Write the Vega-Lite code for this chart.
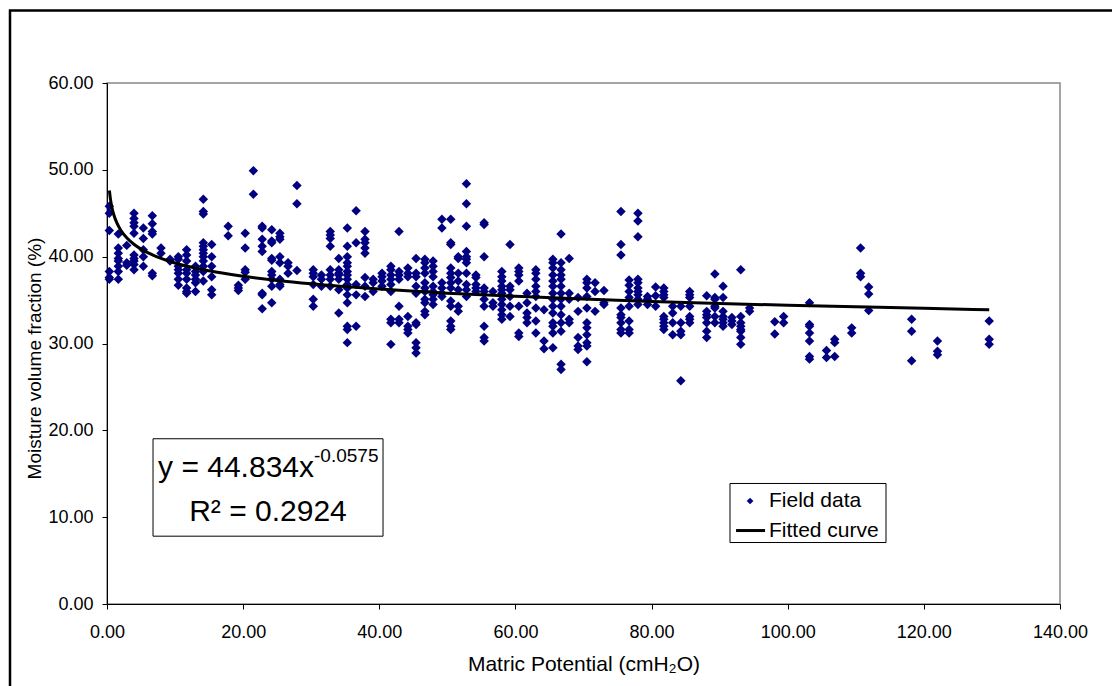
{
"$schema":"https://vega.github.io/schema/vega-lite/v6.json",
"width":953,"height":521,
"autosize":{"type":"none"},
"padding":{"left":107,"top":83,"right":52,"bottom":82},
"background":"white",
"config":{
 "font":"Liberation Sans",
 "view":{"stroke":"#888888","strokeWidth":1.5},
 "axis":{"grid":false,"domainColor":"#000000","tickColor":"#000000","labelColor":"#000000","titleColor":"#000000","labelFont":"Liberation Sans","titleFont":"Liberation Sans","labelFontSize":18,"titleFontSize":21,"titleFontWeight":"normal","tickSize":5,"domainWidth":1,"tickWidth":1,"labelOverlap":false,"labelFlush":false}
},
"datasets":{
"field":[
{"x":0.34,"y":45.8},{"x":0.34,"y":45.0},{"x":0.34,"y":43.0},{"x":0.34,"y":38.3},{"x":0.34,"y":37.6},{"x":0.34,"y":37.4},
{"x":1.66,"y":42.6},{"x":1.66,"y":41.0},{"x":1.66,"y":40.4},{"x":1.66,"y":39.8},{"x":1.66,"y":39.5},{"x":1.66,"y":38.9},{"x":1.66,"y":38.3},{"x":1.66,"y":37.4},
{"x":2.9,"y":41.3},{"x":2.9,"y":39.3},{"x":2.9,"y":39.0},
{"x":3.97,"y":45.0},{"x":3.97,"y":44.4},{"x":3.97,"y":43.9},{"x":3.97,"y":43.5},{"x":3.97,"y":42.7},{"x":3.97,"y":40.2},{"x":3.97,"y":39.8},{"x":3.97,"y":39.5},{"x":3.97,"y":39.1},{"x":3.97,"y":38.5},
{"x":5.34,"y":43.3},{"x":5.34,"y":42.1},{"x":5.34,"y":40.8},{"x":5.34,"y":40.0},{"x":5.34,"y":38.9},
{"x":6.66,"y":44.7},{"x":6.66,"y":43.8},{"x":6.66,"y":42.9},{"x":6.66,"y":42.6},{"x":6.66,"y":38.1},{"x":6.66,"y":37.8},
{"x":7.93,"y":41.0},{"x":7.93,"y":40.4},
{"x":9.26,"y":39.7},{"x":9.26,"y":39.5},
{"x":10.48,"y":40.0},{"x":10.48,"y":39.7},{"x":10.48,"y":38.9},{"x":10.48,"y":38.5},{"x":10.48,"y":38.1},{"x":10.48,"y":37.4},{"x":10.48,"y":36.7},
{"x":11.7,"y":40.8},{"x":11.7,"y":40.2},{"x":11.7,"y":39.5},{"x":11.7,"y":38.5},{"x":11.7,"y":38.1},{"x":11.7,"y":37.4},{"x":11.7,"y":36.4},{"x":11.7,"y":36.0},{"x":11.7,"y":35.8},
{"x":13.0,"y":38.9},{"x":13.0,"y":38.3},{"x":13.0,"y":37.9},{"x":13.0,"y":37.4},{"x":13.0,"y":37.0},{"x":13.0,"y":36.0},
{"x":14.15,"y":46.6},{"x":14.15,"y":45.2},{"x":14.15,"y":44.9},{"x":14.15,"y":41.6},{"x":14.15,"y":41.2},{"x":14.15,"y":40.8},{"x":14.15,"y":40.4},{"x":14.15,"y":40.0},{"x":14.15,"y":39.5},{"x":14.15,"y":38.9},{"x":14.15,"y":38.3},{"x":14.15,"y":37.2},
{"x":15.38,"y":41.4},{"x":15.38,"y":40.0},{"x":15.38,"y":38.9},{"x":15.38,"y":37.7},{"x":15.38,"y":36.2},{"x":15.38,"y":35.6},
{"x":17.8,"y":43.5},{"x":17.8,"y":42.4},
{"x":19.3,"y":36.7},{"x":19.3,"y":36.4},{"x":19.3,"y":36.1},
{"x":20.3,"y":42.7},{"x":20.3,"y":41.0},{"x":20.3,"y":38.5},{"x":20.3,"y":38.2},{"x":20.3,"y":37.4},
{"x":21.5,"y":49.9},{"x":21.5,"y":47.2},
{"x":22.8,"y":43.5},{"x":22.8,"y":43.3},{"x":22.8,"y":42.0},{"x":22.8,"y":41.2},{"x":22.8,"y":40.6},{"x":22.8,"y":35.8},{"x":22.8,"y":35.6},{"x":22.8,"y":34.0},
{"x":24.2,"y":43.1},{"x":24.2,"y":41.8},{"x":24.2,"y":41.6},{"x":24.2,"y":39.8},{"x":24.2,"y":39.6},{"x":24.2,"y":38.3},{"x":24.2,"y":37.9},{"x":24.2,"y":37.4},{"x":24.2,"y":36.6},{"x":24.2,"y":34.7},
{"x":25.4,"y":42.7},{"x":25.4,"y":42.3},{"x":25.4,"y":42.0},{"x":25.4,"y":40.0},{"x":25.4,"y":39.3},{"x":25.4,"y":37.4},{"x":25.4,"y":36.8},{"x":25.4,"y":36.6},
{"x":26.6,"y":39.3},{"x":26.6,"y":38.9},{"x":26.6,"y":38.1},
{"x":27.9,"y":48.2},{"x":27.9,"y":46.1},{"x":27.9,"y":38.4},
{"x":30.3,"y":38.5},{"x":30.3,"y":38.1},{"x":30.3,"y":37.7},{"x":30.3,"y":36.8},{"x":30.3,"y":35.1},{"x":30.3,"y":34.3},
{"x":31.5,"y":37.9},{"x":31.5,"y":37.4},{"x":31.5,"y":36.6},
{"x":32.8,"y":42.9},{"x":32.8,"y":42.5},{"x":32.8,"y":42.1},{"x":32.8,"y":41.2},{"x":32.8,"y":38.5},{"x":32.8,"y":37.9},{"x":32.8,"y":37.4},{"x":32.8,"y":36.6},
{"x":34.05,"y":39.8},{"x":34.05,"y":38.5},{"x":34.05,"y":38.1},{"x":34.05,"y":37.9},{"x":34.05,"y":37.4},{"x":34.05,"y":36.2},{"x":34.05,"y":33.5},
{"x":35.3,"y":43.3},{"x":35.3,"y":41.2},{"x":35.3,"y":40.0},{"x":35.3,"y":39.3},{"x":35.3,"y":38.9},{"x":35.3,"y":38.3},{"x":35.3,"y":37.9},{"x":35.3,"y":37.4},{"x":35.3,"y":36.8},{"x":35.3,"y":36.4},{"x":35.3,"y":35.6},{"x":35.3,"y":34.7},{"x":35.3,"y":32.0},{"x":35.3,"y":31.6},{"x":35.3,"y":30.1},
{"x":36.6,"y":45.3},{"x":36.6,"y":41.6},{"x":36.6,"y":36.8},{"x":36.6,"y":35.6},{"x":36.6,"y":32.0},
{"x":37.9,"y":42.9},{"x":37.9,"y":42.0},{"x":37.9,"y":41.6},{"x":37.9,"y":41.0},{"x":37.9,"y":40.4},{"x":37.9,"y":37.6},{"x":37.9,"y":36.6},{"x":37.9,"y":35.4},
{"x":39.1,"y":37.4},{"x":39.1,"y":37.0},{"x":39.1,"y":36.0},
{"x":40.4,"y":38.1},{"x":40.4,"y":37.7},{"x":40.4,"y":37.2},{"x":40.4,"y":36.6},
{"x":41.7,"y":38.9},{"x":41.7,"y":38.5},{"x":41.7,"y":37.9},{"x":41.7,"y":37.4},{"x":41.7,"y":36.8},{"x":41.7,"y":36.0},{"x":41.7,"y":32.8},{"x":41.7,"y":32.4},{"x":41.7,"y":29.9},
{"x":42.9,"y":42.9},{"x":42.9,"y":38.3},{"x":42.9,"y":37.9},{"x":42.9,"y":37.4},{"x":42.9,"y":34.3},{"x":42.9,"y":32.8},{"x":42.9,"y":32.4},
{"x":44.2,"y":38.7},{"x":44.2,"y":38.1},{"x":44.2,"y":37.7},{"x":44.2,"y":33.1},{"x":44.2,"y":32.0},{"x":44.2,"y":31.6},{"x":44.2,"y":31.2},
{"x":45.4,"y":39.8},{"x":45.4,"y":38.1},{"x":45.4,"y":37.7},{"x":45.4,"y":36.6},{"x":45.4,"y":35.8},{"x":45.4,"y":32.4},{"x":45.4,"y":32.2},{"x":45.4,"y":30.1},{"x":45.4,"y":29.5},{"x":45.4,"y":28.9},
{"x":46.7,"y":39.7},{"x":46.7,"y":39.3},{"x":46.7,"y":38.7},{"x":46.7,"y":38.1},{"x":46.7,"y":37.0},{"x":46.7,"y":36.4},{"x":46.7,"y":36.0},{"x":46.7,"y":35.1},{"x":46.7,"y":34.7},{"x":46.7,"y":33.7},{"x":46.7,"y":33.3},
{"x":47.9,"y":39.5},{"x":47.9,"y":38.9},{"x":47.9,"y":38.3},{"x":47.9,"y":37.7},{"x":47.9,"y":36.6},{"x":47.9,"y":36.0},{"x":47.9,"y":35.6},{"x":47.9,"y":35.1},{"x":47.9,"y":34.5},
{"x":49.2,"y":44.3},{"x":49.2,"y":43.3},{"x":49.2,"y":37.0},{"x":49.2,"y":36.4},{"x":49.2,"y":35.8},{"x":49.2,"y":35.4},
{"x":50.5,"y":44.3},{"x":50.5,"y":41.6},{"x":50.5,"y":41.4},{"x":50.5,"y":38.7},{"x":50.5,"y":38.1},{"x":50.5,"y":37.6},{"x":50.5,"y":37.0},{"x":50.5,"y":36.4},{"x":50.5,"y":34.9},{"x":50.5,"y":34.3},{"x":50.5,"y":32.6},{"x":50.5,"y":32.0},{"x":50.5,"y":31.6},
{"x":51.6,"y":40.0},{"x":51.6,"y":39.8},{"x":51.6,"y":38.1},{"x":51.6,"y":37.2},{"x":51.6,"y":36.2},{"x":51.6,"y":34.3},{"x":51.6,"y":33.7},
{"x":52.8,"y":48.4},{"x":52.8,"y":46.1},{"x":52.8,"y":43.5},{"x":52.8,"y":40.6},{"x":52.8,"y":40.0},{"x":52.8,"y":39.7},{"x":52.8,"y":39.3},{"x":52.8,"y":38.1},{"x":52.8,"y":36.8},{"x":52.8,"y":36.2},{"x":52.8,"y":35.4},
{"x":54.2,"y":37.9},{"x":54.2,"y":37.6},{"x":54.2,"y":36.8},{"x":54.2,"y":36.4},{"x":54.2,"y":36.0},
{"x":55.4,"y":43.9},{"x":55.4,"y":43.7},{"x":55.4,"y":40.0},{"x":55.4,"y":36.4},{"x":55.4,"y":36.0},{"x":55.4,"y":35.1},{"x":55.4,"y":34.3},{"x":55.4,"y":32.0},{"x":55.4,"y":30.7},{"x":55.4,"y":30.3},
{"x":56.7,"y":36.0},{"x":56.7,"y":34.7},{"x":56.7,"y":34.3},
{"x":58.0,"y":38.3},{"x":58.0,"y":37.7},{"x":58.0,"y":37.2},{"x":58.0,"y":36.6},{"x":58.0,"y":36.2},{"x":58.0,"y":35.8},{"x":58.0,"y":35.1},{"x":58.0,"y":34.5},{"x":58.0,"y":33.9},{"x":58.0,"y":33.3},{"x":58.0,"y":32.8},
{"x":59.2,"y":41.4},{"x":59.2,"y":36.6},{"x":59.2,"y":36.2},{"x":59.2,"y":35.4},{"x":59.2,"y":34.3},{"x":59.2,"y":33.1},
{"x":60.5,"y":38.7},{"x":60.5,"y":38.3},{"x":60.5,"y":37.9},{"x":60.5,"y":37.2},{"x":60.5,"y":34.3},{"x":60.5,"y":31.2},{"x":60.5,"y":30.8},
{"x":61.7,"y":35.8},{"x":61.7,"y":34.7},{"x":61.7,"y":33.5},{"x":61.7,"y":33.0},{"x":61.7,"y":32.4},
{"x":63.0,"y":38.5},{"x":63.0,"y":38.1},{"x":63.0,"y":37.4},{"x":63.0,"y":36.6},{"x":63.0,"y":36.0},{"x":63.0,"y":35.4},{"x":63.0,"y":34.1},{"x":63.0,"y":32.6},{"x":63.0,"y":31.2},
{"x":64.2,"y":33.9},{"x":64.2,"y":30.3},{"x":64.2,"y":29.4},
{"x":65.5,"y":39.7},{"x":65.5,"y":39.3},{"x":65.5,"y":38.7},{"x":65.5,"y":37.9},{"x":65.5,"y":37.2},{"x":65.5,"y":36.6},{"x":65.5,"y":35.8},{"x":65.5,"y":35.1},{"x":65.5,"y":34.3},{"x":65.5,"y":33.5},{"x":65.5,"y":32.4},{"x":65.5,"y":32.0},{"x":65.5,"y":31.2},{"x":65.5,"y":29.5},
{"x":66.7,"y":42.6},{"x":66.7,"y":39.3},{"x":66.7,"y":38.5},{"x":66.7,"y":37.9},{"x":66.7,"y":37.4},{"x":66.7,"y":36.6},{"x":66.7,"y":35.8},{"x":66.7,"y":35.1},{"x":66.7,"y":34.3},{"x":66.7,"y":33.3},{"x":66.7,"y":32.4},{"x":66.7,"y":31.4},{"x":66.7,"y":27.6},{"x":66.7,"y":27.0},
{"x":67.9,"y":39.8},{"x":67.9,"y":35.8},{"x":67.9,"y":35.1},{"x":67.9,"y":32.8},{"x":67.9,"y":32.4},
{"x":69.2,"y":35.3},{"x":69.2,"y":33.7},{"x":69.2,"y":30.7},{"x":69.2,"y":29.7},{"x":69.2,"y":29.3},
{"x":70.5,"y":37.4},{"x":70.5,"y":37.0},{"x":70.5,"y":36.4},{"x":70.5,"y":35.4},{"x":70.5,"y":34.1},{"x":70.5,"y":32.4},{"x":70.5,"y":31.8},{"x":70.5,"y":31.0},{"x":70.5,"y":30.1},{"x":70.5,"y":29.7},{"x":70.5,"y":27.9},
{"x":71.7,"y":37.0},{"x":71.7,"y":36.0},{"x":71.7,"y":33.7},
{"x":73.0,"y":36.1},{"x":73.0,"y":34.7},{"x":73.0,"y":34.5},
{"x":75.5,"y":45.2},{"x":75.5,"y":41.4},{"x":75.5,"y":40.2},{"x":75.5,"y":34.1},{"x":75.5,"y":33.3},{"x":75.5,"y":33.0},{"x":75.5,"y":32.4},{"x":75.5,"y":31.6},{"x":75.5,"y":31.2},
{"x":76.7,"y":37.3},{"x":76.7,"y":36.7},{"x":76.7,"y":36.0},{"x":76.7,"y":35.3},{"x":76.7,"y":34.3},{"x":76.7,"y":32.6},{"x":76.7,"y":31.6},{"x":76.7,"y":31.2},
{"x":78.0,"y":45.0},{"x":78.0,"y":44.1},{"x":78.0,"y":42.3},{"x":78.0,"y":37.4},{"x":78.0,"y":37.0},{"x":78.0,"y":36.4},{"x":78.0,"y":36.0},{"x":78.0,"y":35.6},{"x":78.0,"y":35.1},{"x":78.0,"y":34.5},
{"x":79.4,"y":35.4},{"x":79.4,"y":35.1},{"x":79.4,"y":34.5},
{"x":80.6,"y":36.5},{"x":80.6,"y":35.5},{"x":80.6,"y":34.3},
{"x":81.8,"y":36.4},{"x":81.8,"y":36.0},{"x":81.8,"y":35.6},{"x":81.8,"y":35.3},{"x":81.8,"y":33.1},{"x":81.8,"y":32.8},{"x":81.8,"y":32.4},{"x":81.8,"y":32.0},{"x":81.8,"y":31.6},
{"x":83.1,"y":34.3},{"x":83.1,"y":33.5},{"x":83.1,"y":32.4},{"x":83.1,"y":31.0},
{"x":84.3,"y":34.3},{"x":84.3,"y":32.4},{"x":84.3,"y":31.4},{"x":84.3,"y":31.0},{"x":84.3,"y":25.7},
{"x":85.6,"y":36.0},{"x":85.6,"y":35.6},{"x":85.6,"y":35.3},{"x":85.6,"y":34.3},{"x":85.6,"y":33.1},{"x":85.6,"y":32.8},{"x":85.6,"y":32.4},
{"x":88.1,"y":35.5},{"x":88.1,"y":33.7},{"x":88.1,"y":33.3},{"x":88.1,"y":33.0},{"x":88.1,"y":32.4},{"x":88.1,"y":31.4},{"x":88.1,"y":30.7},
{"x":89.3,"y":38.0},{"x":89.3,"y":35.3},{"x":89.3,"y":35.1},{"x":89.3,"y":34.3},{"x":89.3,"y":34.1},{"x":89.3,"y":33.1},{"x":89.3,"y":32.4},
{"x":90.5,"y":36.6},{"x":90.5,"y":35.3},{"x":90.5,"y":33.7},{"x":90.5,"y":33.1},{"x":90.5,"y":32.8},{"x":90.5,"y":32.4},{"x":90.5,"y":32.0},
{"x":91.8,"y":33.0},{"x":91.8,"y":32.6},{"x":91.8,"y":32.2},
{"x":93.1,"y":38.5},{"x":93.1,"y":33.1},{"x":93.1,"y":32.4},{"x":93.1,"y":32.0},{"x":93.1,"y":31.6},{"x":93.1,"y":31.4},{"x":93.1,"y":30.7},{"x":93.1,"y":29.9},
{"x":94.4,"y":34.1},{"x":94.4,"y":33.7},
{"x":98.1,"y":32.5},{"x":98.1,"y":31.1},
{"x":99.4,"y":33.1},{"x":99.4,"y":32.4},
{"x":103.2,"y":34.7},{"x":103.2,"y":32.2},{"x":103.2,"y":32.0},{"x":103.2,"y":31.2},{"x":103.2,"y":30.3},{"x":103.2,"y":28.5},{"x":103.2,"y":28.2},
{"x":105.7,"y":29.2},{"x":105.7,"y":28.4},
{"x":106.9,"y":30.5},{"x":106.9,"y":30.1},{"x":106.9,"y":28.5},
{"x":109.4,"y":31.8},{"x":109.4,"y":31.2},
{"x":110.7,"y":41.0},{"x":110.7,"y":38.1},{"x":110.7,"y":37.7},
{"x":111.9,"y":36.5},{"x":111.9,"y":35.7},{"x":111.9,"y":33.8},
{"x":118.2,"y":32.8},{"x":118.2,"y":31.4},{"x":118.2,"y":28.0},
{"x":122.0,"y":30.3},{"x":122.0,"y":29.1},{"x":122.0,"y":28.7},
{"x":129.6,"y":32.6},{"x":129.6,"y":30.5},{"x":129.6,"y":29.9}
],
"curve":[
{"x":0.35,"y":47.62},{"x":0.5,"y":46.66},{"x":0.75,"y":45.58},{"x":1,"y":44.83},{"x":1.5,"y":43.80},{"x":2,"y":43.08},{"x":3,"y":42.09},{"x":4,"y":41.40},{"x":5,"y":40.87},{"x":7,"y":40.09},{"x":10,"y":39.27},{"x":15,"y":38.37},{"x":20,"y":37.74},{"x":25,"y":37.26},{"x":30,"y":36.87},{"x":40,"y":36.27},{"x":50,"y":35.80},{"x":60,"y":35.43},{"x":70,"y":35.12},{"x":80,"y":34.85},{"x":90,"y":34.61},{"x":100,"y":34.40},{"x":110,"y":34.22},{"x":120,"y":34.05},{"x":129.6,"y":33.89}
],
"one":[{}]
},
"layer":[
{"data":{"name":"field"},
 "mark":{"type":"point","shape":"diamond","filled":true,"size":90,"opacity":1,"color":"#000080"},
 "encoding":{
  "x":{"field":"x","type":"quantitative","scale":{"domain":[0,140],"nice":false,"zero":false},
       "axis":{"title":"Matric Potential (cmH₂O)","values":[0,20,40,60,80,100,120,140],"format":".2f","labelPadding":14,"titlePadding":12}},
  "y":{"field":"y","type":"quantitative","scale":{"domain":[0,60],"nice":false,"zero":false},
       "axis":{"title":"Moisture volume fraction (%)","values":[0,10,20,30,40,50,60],"format":".2f","labelPadding":9,"titlePadding":3,"titleFontSize":19,"titleY":275}}
 }},
{"data":{"name":"curve"},
 "mark":{"type":"line","strokeWidth":3,"interpolate":"monotone","color":"#000000"},
 "encoding":{
  "x":{"field":"x","type":"quantitative"},
  "y":{"field":"y","type":"quantitative"}
 }},
{"data":{"name":"one"},
 "mark":{"type":"rect","fill":"transparent","stroke":"#000000","strokeWidth":2.5},
 "encoding":{
  "x":{"datum":-14.25,"type":"quantitative"},
  "x2":{"datum":170},
  "y":{"datum":68.35,"type":"quantitative"},
  "y2":{"datum":-15}
 }},
{"data":{"name":"one"},
 "mark":{"type":"rect","fill":"#ffffff","stroke":"#000000","strokeWidth":1},
 "encoding":{
  "x":{"datum":6.76,"type":"quantitative"},
  "x2":{"datum":40.55},
  "y":{"datum":19.03,"type":"quantitative"},
  "y2":{"datum":7.81}
 }},
{"data":{"name":"one"},
 "mark":{"type":"text","text":"y = 44.834x","align":"right","baseline":"alphabetic","font":"Liberation Sans","fontSize":30,"color":"#000000"},
 "encoding":{
  "x":{"datum":30.41,"type":"quantitative"},
  "y":{"datum":14.68,"type":"quantitative"}
 }},
{"data":{"name":"one"},
 "mark":{"type":"text","text":"-0.0575","align":"left","baseline":"alphabetic","font":"Liberation Sans","fontSize":19,"color":"#000000"},
 "encoding":{
  "x":{"datum":30.41,"type":"quantitative"},
  "y":{"datum":16.3,"type":"quantitative"}
 }},
{"data":{"name":"one"},
 "mark":{"type":"text","text":"R² = 0.2924","align":"center","baseline":"alphabetic","font":"Liberation Sans","fontSize":30,"color":"#000000"},
 "encoding":{
  "x":{"datum":23.65,"type":"quantitative"},
  "y":{"datum":9.54,"type":"quantitative"}
 }},
{"data":{"name":"one"},
 "mark":{"type":"rect","fill":"#ffffff","stroke":"#000000","strokeWidth":1},
 "encoding":{
  "x":{"datum":91.52,"type":"quantitative"},
  "x2":{"datum":114.44},
  "y":{"datum":13.88,"type":"quantitative"},
  "y2":{"datum":7.08}
 }},
{"data":{"name":"one"},
 "mark":{"type":"point","shape":"diamond","filled":true,"size":45,"opacity":1,"color":"#000080"},
 "encoding":{
  "x":{"datum":94.47,"type":"quantitative"},
  "y":{"datum":11.86,"type":"quantitative"}
 }},
{"data":{"name":"one"},
 "mark":{"type":"rule","strokeWidth":3,"color":"#000000"},
 "encoding":{
  "x":{"datum":92.41,"type":"quantitative"},
  "x2":{"datum":96.67},
  "y":{"datum":8.46,"type":"quantitative"}
 }},
{"data":{"name":"one"},
 "mark":{"type":"text","text":"Field data","align":"left","baseline":"middle","font":"Liberation Sans","fontSize":21,"color":"#000000"},
 "encoding":{
  "x":{"datum":97.25,"type":"quantitative"},
  "y":{"datum":11.86,"type":"quantitative"}
 }},
{"data":{"name":"one"},
 "mark":{"type":"text","text":"Fitted curve","align":"left","baseline":"middle","font":"Liberation Sans","fontSize":21,"color":"#000000"},
 "encoding":{
  "x":{"datum":97.25,"type":"quantitative"},
  "y":{"datum":8.46,"type":"quantitative"}
 }}
]
}
